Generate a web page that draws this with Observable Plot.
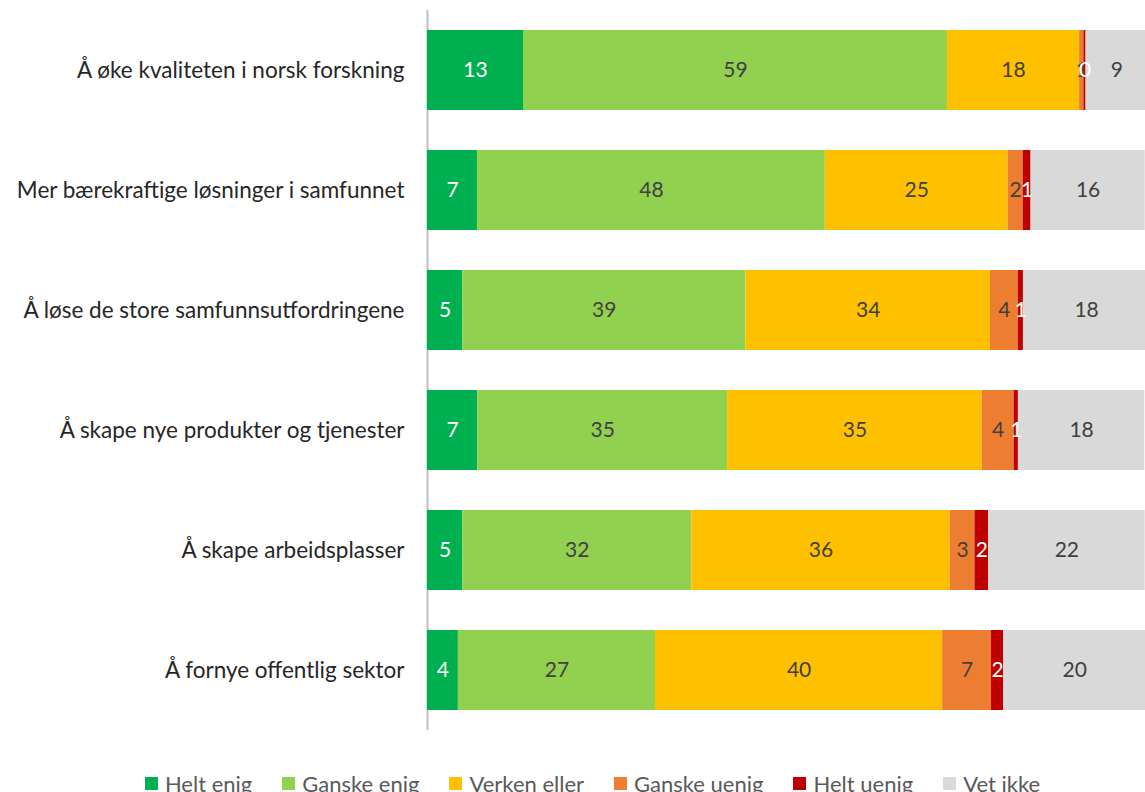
<!DOCTYPE html>
<html>
<head>
<meta charset="utf-8">
<script src="https://cdn.jsdelivr.net/npm/d3@7"></script>
<script src="https://cdn.jsdelivr.net/npm/@observablehq/plot@0.6"></script>
<style>
  html, body { margin: 0; padding: 0; background: #ffffff; }
  body { width: 1145px; height: 792px; overflow: hidden; font-family: Lato, "Open Sans", sans-serif; }
  #legend { display: flex; justify-content: center; align-items: center; gap: 30px; margin-top: 30px; padding-left: 40px;
            font-family: Lato, sans-serif; font-size: 22px; color: #595959; }
  #legend .item { display: flex; align-items: center; }
  #legend .sw { width: 13px; height: 13px; margin-right: 7px; display: inline-block; }
</style>
</head>
<body>
<div id="chart"></div>
<div id="legend"></div>
<script>
const categories = [
  "Å øke kvaliteten i norsk forskning",
  "Mer bærekraftige løsninger i samfunnet",
  "Å løse de store samfunnsutfordringene",
  "Å skape nye produkter og tjenester",
  "Å skape arbeidsplasser",
  "Å fornye offentlig sektor"
];
const series = ["Helt enig", "Ganske enig", "Verken eller", "Ganske uenig", "Helt uenig", "Vet ikke"];
const colors = ["#00B050", "#92D050", "#FFC000", "#ED7D31", "#C00000", "#D9D9D9"];
const whiteLabelSeries = ["Helt enig", "Helt uenig"];

const heltEnig    = [13.37,  6.96,  4.9,   7.0,   4.9,   4.3];
const ganskeEnig  = [59.05, 48.45, 39.45, 34.8,  31.9,  27.45];
const verkenEller = [18.4,  25.45, 34.05, 35.45, 36.0,  40.0];
const ganskeUenig = [ 0.6,   2.1,   3.9,   4.45,  3.45,  6.8];
const heltUenig   = [ 0.3,   1.1,   0.7,   0.6,   1.9,   1.7];
const vetIkke     = [ 8.6,  15.9,  17.6,  17.6,  21.8,  19.8];

const seriesValues = [heltEnig, ganskeEnig, verkenEller, ganskeUenig, heltUenig, vetIkke];

const data = [];
series.forEach((s, i) => categories.forEach((c, j) => data.push({category: c, series: s, value: seriesValues[i][j]})));

const fmt = v => String(Math.round(v));

const chart = Plot.plot({
  width: 1145,
  height: 740,
  marginLeft: 427,
  marginRight: 0,
  marginTop: 10,
  marginBottom: 10,
  style: {fontFamily: "Lato, sans-serif", fontSize: "22.5px", color: "#262626", background: "#ffffff"},
  x: {domain: [0, 100], axis: null},
  y: {domain: categories, paddingInner: 1/3, paddingOuter: 1/6, label: null, tickSize: 0, tickPadding: 23},
  color: {domain: series, range: colors},
  marks: [
    Plot.ruleX([0], {stroke: "#BFBFBF", strokeWidth: 2}),
    Plot.barX(data, Plot.stackX({x: "value", y: "category", fill: "series", z: "series"})),
    Plot.text(data, Plot.stackX({
      x: "value", y: "category", z: "series",
      text: d => whiteLabelSeries.includes(d.series) ? null : fmt(d.value),
      fill: "#404040", fontSize: 21
    })),
    Plot.text(data, Plot.stackX({
      x: "value", y: "category", z: "series",
      text: d => whiteLabelSeries.includes(d.series) ? fmt(d.value) : null,
      fill: "#ffffff", fontSize: 21
    }))
  ]
});
document.getElementById("chart").appendChild(chart);

const legend = d3.select("#legend");
series.forEach((s, i) => {
  const item = legend.append("div").attr("class", "item");
  item.append("span").attr("class", "sw").style("background", colors[i]);
  item.append("span").text(s);
});
</script>
</body>
</html>
